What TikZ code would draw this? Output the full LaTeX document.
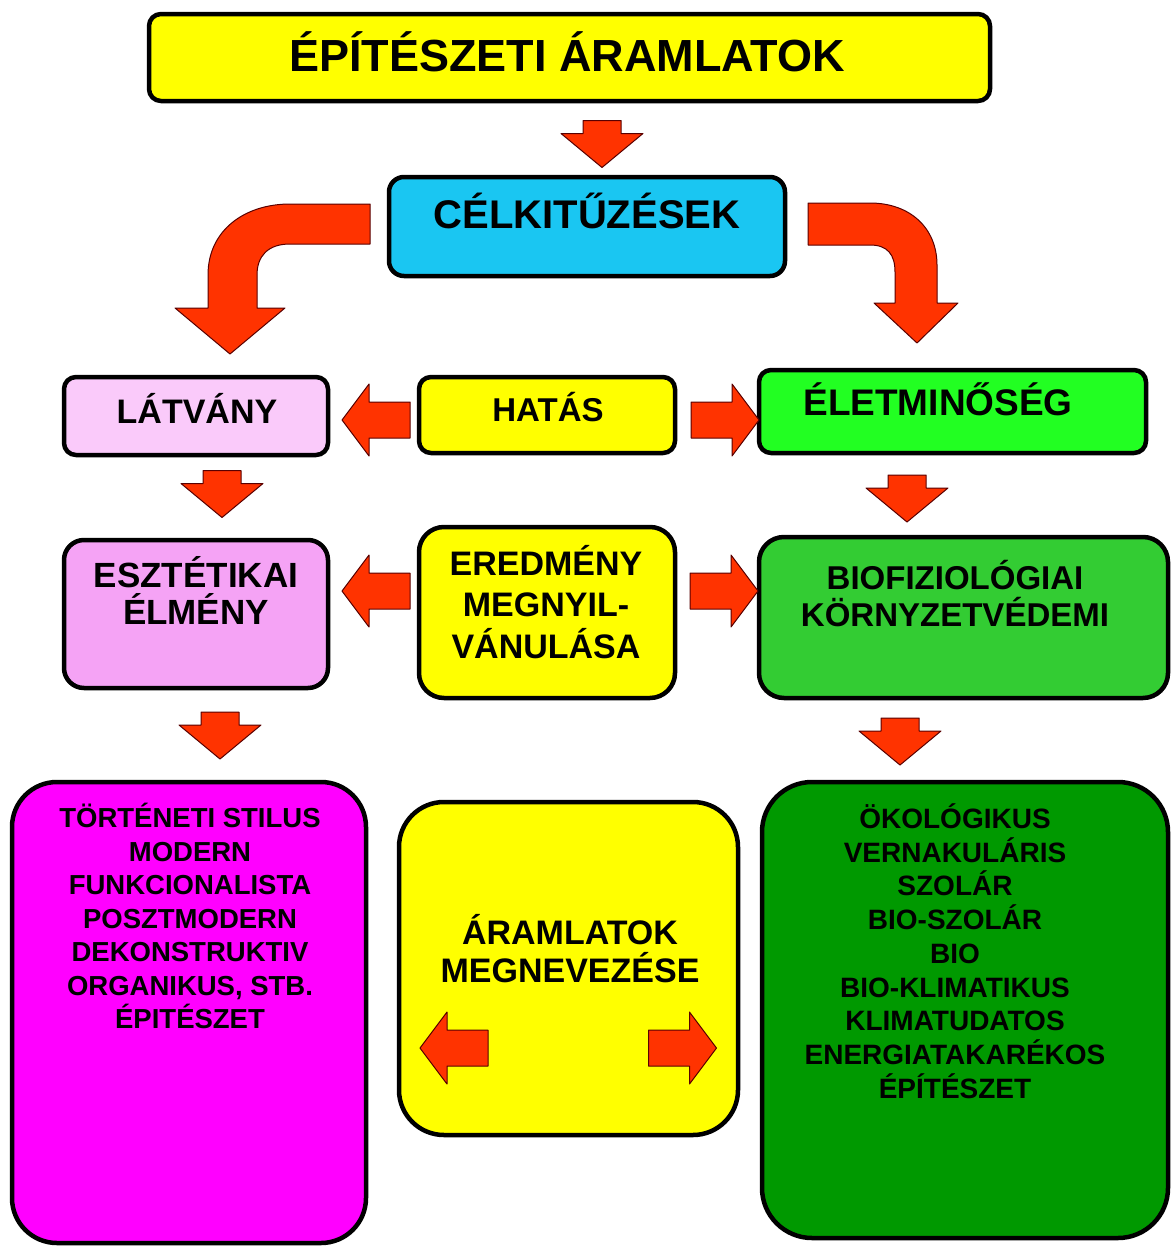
\documentclass[tikz,border=0pt]{standalone}
\usepackage{fontspec}
\setmainfont{Liberation Sans}
\usepackage{xcolor}

\definecolor{arrowred}{RGB}{255,51,0}
\definecolor{skyblue}{RGB}{26,198,242}
\definecolor{palepink}{RGB}{250,202,250}
\definecolor{midpink}{RGB}{245,163,245}
\definecolor{limegreen}{RGB}{34,255,34}
\definecolor{leafgreen}{RGB}{51,204,51}
\definecolor{darkgreen}{RGB}{0,153,0}
\definecolor{pureyellow}{RGB}{255,255,0}
\definecolor{puremagenta}{RGB}{255,0,255}

\begin{document}
\begin{tikzpicture}[x=1pt,y=-1pt,line join=round]
    \tikzstyle{box}=[draw,line width=4.5pt,rounded corners=12pt]
    \tikzstyle{txt}=[align=center,font=\bfseries,inner sep=0pt]
    \tikzstyle{redarrow}=[fill=arrowred,draw=black!65!red,line width=1pt]
    \tikzset{
      sidearrow/.pic={\path[redarrow] (-34,-18) -- (7,-18) -- (7,-36) -- (34,0) -- (7,36) -- (7,18) -- (-34,18) -- cycle;},
      downarrow/.pic={\path[redarrow] (-19,-23) -- (-19,-10) -- (-41,-10) -- (0,24) -- (41,-10) -- (19,-10) -- (19,-23) -- cycle;}
    }

    \useasboundingbox (0,0) rectangle (1175,1250);

    % boxes
    \node[box,fill=pureyellow,minimum width=841pt,minimum height=87pt] (title) at (569.5,57.5) {};
    \node[box,fill=skyblue,rounded corners=15pt,minimum width=396pt,minimum height=99pt] (goal) at (587,226.5) {};
    \node[box,fill=palepink,minimum width=264pt,minimum height=78pt] (sight) at (196,416) {};
    \node[box,fill=pureyellow,minimum width=256pt,minimum height=76pt] (effect) at (547,415) {};
    \node[box,fill=limegreen,minimum width=387pt,minimum height=83pt] (life) at (952.5,411.5) {};
    \node[box,fill=midpink,rounded corners=20pt,minimum width=264pt,minimum height=148pt] (aesth) at (196,614) {};
    \node[box,fill=pureyellow,rounded corners=25pt,minimum width=256pt,minimum height=171pt] (result) at (547,612.5) {};
    \node[box,fill=leafgreen,rounded corners=25pt,minimum width=409pt,minimum height=161pt] (biofiz) at (963.5,617.5) {};
    \node[box,fill=puremagenta,rounded corners=45pt,minimum width=354pt,minimum height=461pt] (styles) at (189,1012.5) {};
    \node[box,fill=pureyellow,rounded corners=45pt,minimum width=339pt,minimum height=333pt] (naming) at (568.5,968.5) {};
    \node[box,fill=darkgreen,rounded corners=50pt,minimum width=406pt,minimum height=456pt] (ecostyles) at (965,1010) {};

    % texts
    \node[txt,font=\bfseries\fontsize{45}{54}\selectfont] (titletext) at (567,52) {ÉPÍTÉSZETI ÁRAMLATOK};
    \node[txt,font=\bfseries\fontsize{40}{48}\selectfont] (goaltext) at (587,211) {CÉLKITŰZÉSEK};
    \node[txt,font=\bfseries\fontsize{34}{40}\selectfont] (sighttext) at (197,408) {LÁTVÁNY};
    \node[txt,font=\bfseries\fontsize{33}{40}\selectfont] (effecttext) at (548,407) {HATÁS};
    \node[txt,font=\bfseries\fontsize{37}{44}\selectfont] (lifetext) at (938,399) {ÉLETMINŐSÉG};
    \node[txt,font=\bfseries\fontsize{35}{37}\selectfont] (aesthtext) at (196,590) {ESZTÉTIKAI\\ÉLMÉNY};
    \node[txt,font=\bfseries\fontsize{34}{41.5}\selectfont] (resulttext) at (546,602) {EREDMÉNY\\MEGNYIL-\\VÁNULÁSA};
    \node[txt,font=\bfseries\fontsize{33}{37}\selectfont] (bioftext) at (955,594) {BIOFIZIOLÓGIAI\\KÖRNYZETVÉDEMI};
    \node[txt,font=\bfseries\fontsize{27.5}{33.5}\selectfont] (stylestext) at (190,916) {TÖRTÉNETI STILUS\\MODERN\\FUNKCIONALISTA\\POSZTMODERN\\DEKONSTRUKTIV\\ORGANIKUS, STB.\\ÉPITÉSZET};
    \node[txt,font=\bfseries\fontsize{34}{38}\selectfont] (namingtext) at (570,949) {ÁRAMLATOK\\MEGNEVEZÉSE};
    \node[txt,font=\bfseries\fontsize{28}{33.75}\selectfont] (ecotext) at (955,951) {ÖKOLÓGIKUS\\VERNAKULÁRIS\\SZOLÁR\\BIO-SZOLÁR\\BIO\\BIO-KLIMATIKUS\\KLIMATUDATOS\\ENERGIATAKARÉKOS\\ÉPÍTÉSZET};

    % curved arrows
    \path[redarrow] (370,204) -- (290,204) .. controls (245,204) and (208,230) .. (208,275) -- (208,308) -- (175,308) -- (230,354) -- (285,308) -- (257,308) -- (257,275) .. controls (257,256) and (268,244) .. (290,244) -- (370,244) -- cycle;
    \path[redarrow] (808,203) -- (870,203) .. controls (910,203) and (937,228) .. (937,265) -- (937,303) -- (958,303) -- (917,343) -- (874,303) -- (895,303) -- (895,272) .. controls (895,255) and (888,245) .. (870,245) -- (808,245) -- cycle;

    % straight arrows
    \foreach \px/\py in {602/143.5, 222/493.5, 907/498, 220/735, 900/741}
        \pic at (\px,\py) {downarrow};
    \foreach \px/\py in {376/420, 376/591, 454/1048}
        \pic[rotate=180] at (\px,\py) {sidearrow};
    \foreach \px/\py in {725/420, 724/591, 682.5/1048}
        \pic at (\px,\py) {sidearrow};
\end{tikzpicture}
\end{document}
